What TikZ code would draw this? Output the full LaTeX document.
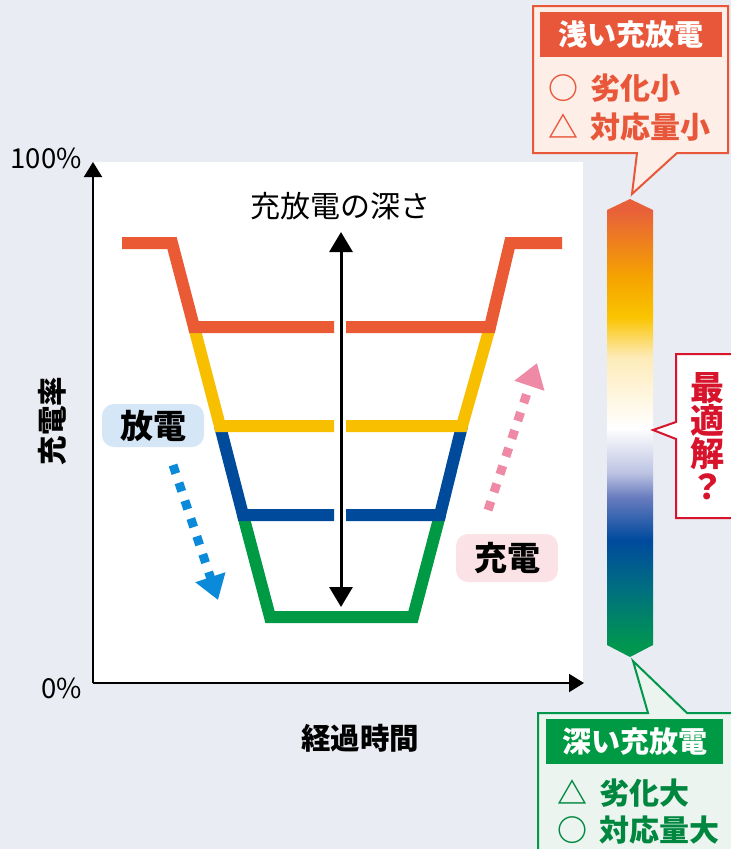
\documentclass[tikz,border=0pt]{standalone}
\usepackage{fontspec}
\setmainfont{Noto Sans CJK JP}
\usetikzlibrary{arrows.meta}
\definecolor{bgc}{HTML}{E9ECF2}
\definecolor{lor}{HTML}{E95A35}
\definecolor{lye}{HTML}{F8BE00}
\definecolor{lbl}{HTML}{004A9B}
\definecolor{lgr}{HTML}{009A44}
\definecolor{dotb}{HTML}{0A8AD8}
\definecolor{dotp}{HTML}{EE89A6}
\definecolor{boxb}{HTML}{D5E7F7}
\definecolor{boxp}{HTML}{FBE2E7}
\definecolor{cor}{HTML}{E8603A}
\definecolor{camb}{HTML}{F5A300}
\definecolor{cyel}{HTML}{FAC400}
\definecolor{cpale}{HTML}{FDEBB8}
\definecolor{clav}{HTML}{BCC3E2}
\definecolor{cpur}{HTML}{6A7DBF}
\definecolor{cdb}{HTML}{004A9E}
\definecolor{cteal}{HTML}{00707F}
\definecolor{cg}{HTML}{009650}
\definecolor{tfill}{HTML}{FDEEE8}
\definecolor{tline}{HTML}{E8573A}
\definecolor{gfill}{HTML}{EBF4EE}
\definecolor{gline}{HTML}{00974A}
\definecolor{gtext}{HTML}{00873F}
\definecolor{rline}{HTML}{D7142B}
\pgfdeclareverticalshading{barshade}{100bp}{color(0bp)=(cg); color(25bp)=(cg); color(26.3bp)=(cg); color(32.3bp)=(cteal); color(37.8bp)=(cdb); color(42.5bp)=(cpur); color(45.1bp)=(clav); color(50bp)=(white); color(57.75bp)=(cpale); color(62.1bp)=(cyel); color(66.5bp)=(camb); color(73.8bp)=(cor); color(75bp)=(cor); color(100bp)=(cor)}
\begin{document}
\begin{tikzpicture}[x=1pt,y=-1pt,
  lvl/.style={line width=12pt,line join=miter,line cap=butt},
  axisline/.style={line width=2pt,-{Triangle[length=15pt,width=18pt]}},
  dotarrow/.style={line width=9pt,dash pattern=on 9pt off 9.8pt,-{Triangle[length=24pt,width=30pt]}},
  lab/.style={inner sep=0pt,font=\fontsize{27.5pt}{29pt}\selectfont},
  blab/.style={inner sep=0pt,font=\bfseries\fontsize{29.5pt}{31pt}\selectfont},
  tagbox/.style={inner sep=0pt,rounded corners=12pt,minimum width=102pt,font=\bfseries\fontsize{33pt}{35pt}\selectfont},
  item/.style={inner sep=0pt,anchor=west,font=\bfseries\fontsize{30pt}{32pt}\selectfont},
  head/.style={inner sep=0pt,text=white,font=\bfseries\fontsize{29pt}{31pt}\selectfont}]
\useasboundingbox (0,0) rectangle (731,849);
\clip (0,0) rectangle (731,849);
\fill[bgc] (0,0) rectangle (731,849);
% plot area
\fill[white] (93,162) rectangle (583,683);
% level lines
\draw[lvl,lgr] (243,515) -- (270,617) -- (413,617) -- (440,515);
\draw[lvl,lbl] (220,426) -- (243,515) -- (334,515);
\draw[lvl,lbl] (346,515) -- (440,515) -- (462,426);
\draw[lvl,lye] (194,327) -- (220,426) -- (334,426);
\draw[lvl,lye] (346,426) -- (462,426) -- (490,327);
\draw[lvl,lor] (122,243) -- (172,243) -- (194,327) -- (334,327);
\draw[lvl,lor] (346,327) -- (490,327) -- (510,243) -- (562,243);
% axes
\coordinate (o) at (93,683);
\coordinate (ytop) at (93,162);
\coordinate (xend) at (584,683);
\draw[axisline] (o) -- (ytop);
\draw[axisline] (o) -- (xend);
\node[lab,anchor=east] (p100) at (82,158) {100\%};
\node[lab,anchor=east] (p0) at (82,688) {0\%};
\node[blab,rotate=90] (ylab) at (52,421) {充電率};
\node[blab] (xlab) at (360,738) {経過時間};
% depth arrow
\coordinate (dtop) at (341,232);
\coordinate (dbot) at (341,607);
\draw[line width=3pt,{Triangle[length=20pt,width=23pt]}-{Triangle[length=20pt,width=23pt]}] (dbot) -- (dtop);
\node[inner sep=0pt,font=\fontsize{30pt}{32pt}\selectfont] (dlab) at (340,206) {充放電の深さ};
% discharge / charge
\node[tagbox,fill=boxb,minimum height=43pt] (dis) at (153,425.5) {放電};
\node[tagbox,fill=boxp,minimum height=48pt] (chg) at (507,558) {充電};
\coordinate (bs) at (173,465);
\coordinate (be) at (218,600);
\draw[dotarrow,dotb] (bs) -- (be);
\coordinate (ps) at (488,510);
\coordinate (pe) at (537,363);
\draw[dotarrow,dotp] (ps) -- (pe);
% colour bar
\shade[shading=barshade] (607,210) -- (630,199) -- (653,210) -- (653,645) -- (630,657) -- (607,645) -- cycle;
% top callout
\draw[line width=2pt,tline,fill=tfill,line join=miter] (533,6) -- (728,6) -- (728,153) -- (677,153) -- (632,194) -- (637,153) -- (533,153) -- cycle;
\fill[tline] (540,12) rectangle (722,57);
\node[head] (th) at (631,34.5) {浅い充放電};
\node[item,text=tline] (t1) at (548,88) {○\hspace{0.4em}劣化小};
\node[item,text=tline] (t2) at (548,127) {△\hspace{0.4em}対応量小};
% bottom callout
\draw[line width=2pt,gline,fill=gfill,line join=miter] (538,713) -- (648,713) -- (633,661) -- (687,713) -- (745,713) -- (745,860) -- (538,860) -- cycle;
\fill[lgr] (546,719) rectangle (723,764);
\node[head] (bh) at (634.5,741.5) {深い充放電};
\node[item,text=gtext] (b1) at (557,793) {△\hspace{0.4em}劣化大};
\node[item,text=gtext] (b2) at (557,830) {○\hspace{0.4em}対応量大};
% optimum callout
\draw[line width=2pt,rline,fill=white,line join=miter] (676,354) -- (745,354) -- (745,518) -- (676,518) -- (676,439) -- (653,430) -- (676,422) -- cycle;
\node[inner sep=0pt,text=rline,align=center,font=\bfseries\fontsize{34pt}{33pt}\selectfont] (opt) at (707,436) {最\\適\\解\\？};
\end{tikzpicture}
\end{document}
